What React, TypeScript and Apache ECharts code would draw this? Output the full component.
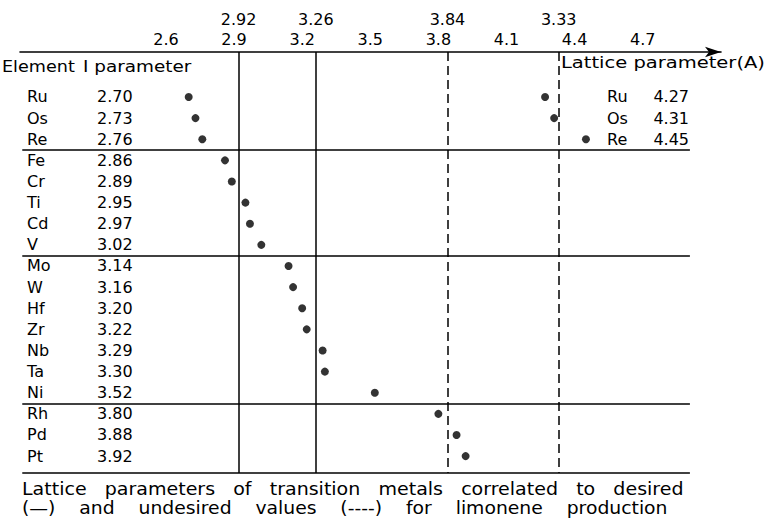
import React, { useEffect, useRef } from "react";
import * as echarts from "echarts";

// ---- data ----
const ELEMENTS = ["Ru", "Os", "Re", "Fe", "Cr", "Ti", "Cd", "V", "Mo", "W", "Hf", "Zr", "Nb", "Ta", "Ni", "Rh", "Pd", "Pt"];
const I_PARAM = [2.70, 2.73, 2.76, 2.86, 2.89, 2.95, 2.97, 3.02, 3.14, 3.16, 3.20, 3.22, 3.29, 3.30, 3.52, 3.80, 3.88, 3.92];
const LATTICE_ELEMENTS = ["Ru", "Os", "Re"];
const LATTICE_PARAM = [4.27, 4.31, 4.45];
const GROUP_SIZES = [3, 5, 7, 3];
const TICK_VALUES = [2.6, 2.9, 3.2, 3.5, 3.8, 4.1, 4.4, 4.7];
const DESIRED = [2.92, 3.26];
const UNDESIRED = [3.84, 4.33];
const THRESHOLD_LABELS = ["2.92", "3.26", "3.84", "3.33"];
const CAPTION = [
  "Lattice   parameters   of   transition   metals   correlated   to   desired",
  "(\u2014)    and    undesired    values    (----)    for    limonene    production",
];

// ---- layout / style ----
const FONT = "DejaVu Sans";
const X_MIN = 1.957;
const X_MAX = 5.045;
const X_TABLE_END = 4.908;
const Y_MIN = -2.13;
const Y_MAX = 17.8;
const CAPTION_SCALE = [1.12, 1.105];

export default function App() {
  const ref = useRef<HTMLDivElement>(null);
  useEffect(() => {
    if (!ref.current) return;
    const chart = echarts.init(ref.current, null, { renderer: "svg" });
    const thresholds = [...DESIRED, ...UNDESIRED];
    const seps: number[] = [];
    let acc = 0;
    GROUP_SIZES.forEach((g, i) => {
      acc += g;
      if (i < GROUP_SIZES.length - 1) seps.push(acc - 0.5);
    });
    seps.push(Y_MAX);
    const rowIdx = ELEMENTS.map((_, i) => i);
    const latIdx = LATTICE_ELEMENTS.map((_, i) => i);
    const txt = (text: string, x: number, y: number, sx: number, size = 16) => ({
      type: "text",
      x,
      y,
      scaleX: sx,
      style: { text, font: `${size}px '${FONT}'`, fill: "#000", textVerticalAlign: "middle" },
    });

    chart.setOption({
      animation: false,
      backgroundColor: "#fff",
      textStyle: { fontFamily: FONT, color: "#000" },
      grid: { left: 20, right: 47, top: 52, bottom: 47, containLabel: false },
      xAxis: [
        {
          type: "value",
          position: "top",
          min: X_MIN,
          max: X_MAX,
          axisLine: {
            show: true,
            onZero: false,
            symbol: ["none", "arrow"],
            symbolSize: [8, 16],
            lineStyle: { color: "#000", width: 1.6 },
          },
          axisTick: { show: false },
          splitLine: { show: false },
          axisLabel: {
            customValues: TICK_VALUES,
            formatter: (v: number) => v.toFixed(1),
            fontSize: 16,
            color: "#000",
            fontFamily: FONT,
            margin: 5,
          },
        },
        {
          type: "value",
          position: "top",
          offset: 20,
          min: X_MIN,
          max: X_MAX,
          axisLine: { show: false, onZero: false },
          axisTick: { show: false },
          splitLine: { show: false },
          axisLabel: {
            customValues: thresholds,
            formatter: (v: number) => {
              const i = thresholds.findIndex((t) => Math.abs(t - v) < 1e-6);
              return i >= 0 ? THRESHOLD_LABELS[i] : "";
            },
            fontSize: 16,
            color: "#000",
            fontFamily: FONT,
            margin: 5,
          },
        },
      ],
      yAxis: [
        {
          type: "value",
          inverse: true,
          position: "left",
          min: Y_MIN,
          max: Y_MAX,
          axisLine: { show: false, onZero: false },
          axisTick: { show: false },
          splitLine: { show: false },
          axisLabel: {
            inside: true,
            margin: 7,
            customValues: rowIdx,
            formatter: (v: number) => `{n|${ELEMENTS[v]}}{v|${I_PARAM[v].toFixed(2)}}`,
            rich: {
              n: { width: 70, fontSize: 16, fontFamily: FONT, color: "#000" },
              v: { fontSize: 16, fontFamily: FONT, color: "#000" },
            },
          },
        },
        {
          type: "value",
          inverse: true,
          position: "right",
          min: Y_MIN,
          max: Y_MAX,
          axisLine: { show: false, onZero: false },
          axisTick: { show: false },
          splitLine: { show: false },
          axisLabel: {
            inside: true,
            margin: 32,
            customValues: latIdx,
            formatter: (v: number) => `{n|${LATTICE_ELEMENTS[v]}}{v|${LATTICE_PARAM[v].toFixed(2)}}`,
            rich: {
              n: { width: 42, align: "left", fontSize: 16, fontFamily: FONT, color: "#000" },
              v: { width: 40, align: "right", fontSize: 16, fontFamily: FONT, color: "#000" },
            },
          },
        },
      ],
      series: [
        {
          type: "scatter",
          name: "I parameter",
          xAxisIndex: 0,
          yAxisIndex: 0,
          symbolSize: 8,
          itemStyle: { color: "#000" },
          data: I_PARAM.map((v, i) => [v, i]),
          markLine: {
            silent: true,
            symbol: "none",
            label: { show: false },
            data: [
              ...DESIRED.map((x) => ({ xAxis: x, lineStyle: { color: "#000", width: 1.5, type: "solid" } })),
              ...UNDESIRED.map((x) => ({ xAxis: x, lineStyle: { color: "#000", width: 1.5, type: [9, 5] } })),
              ...seps.map((y) => [
                { coord: [X_MIN + 0.01, y], lineStyle: { color: "#000", width: 1.5, type: "solid" } },
                { coord: [X_TABLE_END, y] },
              ]),
            ],
          },
        },
        {
          type: "scatter",
          name: "Lattice parameter",
          xAxisIndex: 0,
          yAxisIndex: 0,
          symbolSize: 8,
          itemStyle: { color: "#000" },
          data: LATTICE_PARAM.map((v, i) => [v, i]),
        },
      ],
      graphic: [
        txt("Element", 2, 66, 1.1),
        txt("I parameter", 83, 66, 1.15),
        txt("Lattice parameter(A)", 561, 62, 1.22),
        ...CAPTION.map((t, i) => txt(t, 22, 489 + i * 19, CAPTION_SCALE[i], 17)),
      ],
    });
    return () => chart.dispose();
  }, []);
  return <div ref={ref} style={{ width: 768, height: 520, position: "absolute", left: 0, top: 0 }} />;
}
